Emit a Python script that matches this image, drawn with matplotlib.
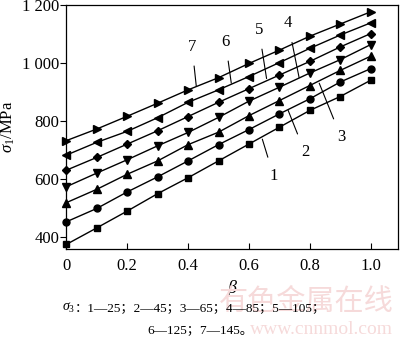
import matplotlib
matplotlib.use("Agg")
import matplotlib.pyplot as plt

beta = [0.0, 0.1, 0.2, 0.3, 0.4, 0.5, 0.6, 0.7, 0.8, 0.9, 1.0]
s1 = [373, 430, 488, 548, 603, 661, 719, 777, 835, 883, 939]
s2 = [451, 497, 554, 606, 661, 717, 769, 823, 875, 933, 979]
s3 = [517, 563, 615, 661, 717, 760, 817, 869, 921, 973, 1022]
s4 = [572, 619, 665, 713, 759, 811, 867, 915, 964, 1010, 1062]
s5 = [629, 673, 719, 765, 814, 863, 910, 957, 1004, 1054, 1100]
s6 = [681, 725, 763, 810, 863, 906, 952, 1000, 1049, 1095, 1137]
s7 = [731, 771, 815, 860, 906, 948, 997, 1043, 1091, 1133, 1175]
series = [s1, s2, s3, s4, s5, s6, s7]
markers = ['s', 'o', '^', 'v', 'D', '<', '>']
msizes = [4.5, 5, 5.5, 5.5, 4.5, 5.5, 5.5]
curve_labels = ['1', '2', '3', '4', '5', '6', '7']
# (label text position, point on curve) in data coords
label_text = [(0.681, 609), (0.784, 690), (0.903, 742), (0.729, 1135), (0.633, 1112), (0.523, 1071), (0.413, 1054)]
label_tip = [(0.644, 736), (0.729, 835), (0.831, 929), (0.765, 948), (0.658, 945), (0.542, 929), (0.427, 918)]
xticks = [0, 0.2, 0.4, 0.6, 0.8, 1.0]
xticklabels = ['0', '0.2', '0.4', '0.6', '0.8', '1.0']
yticks = [400, 600, 800, 1000, 1200]
yticklabels = ['400', '600', '800', '1 000', '1 200']
caption1 = '：1—25；2—45；3—65；4—85；5—105；'
caption2 = '6—125；7—145。'

plt.rcParams['font.family'] = ['Liberation Serif', 'Noto Sans CJK SC', 'DejaVu Sans']
plt.rcParams['mathtext.fontset'] = 'custom'
plt.rcParams['mathtext.rm'] = 'Liberation Serif'
plt.rcParams['mathtext.it'] = 'Liberation Serif:italic'

fig = plt.figure(figsize=(4.0, 3.42), dpi=100)
ax = fig.add_axes([0.166, 0.271, 0.829, 0.7155])

for ys, m, ms in zip(series, markers, msizes):
    ax.plot(beta, ys, color='black', lw=1.0, marker=m, markersize=ms,
            markerfacecolor='black', markeredgecolor='black', clip_on=False, zorder=3)

for lab, (tx, ty), (px, py) in zip(curve_labels, label_text, label_tip):
    ax.annotate(lab, xy=(px, py), xytext=(tx, ty), fontsize=12,
                ha='center', va='center',
                arrowprops=dict(arrowstyle='-', color='black', lw=0.8,
                                shrinkA=6, shrinkB=0))

ax.set_xlim(0, 1.09)
ax.set_ylim(356, 1200)
ax.set_xticks(xticks)
ax.set_xticklabels(xticklabels)
ax.set_yticks(yticks)
ax.set_yticklabels(yticklabels)
ax.tick_params(axis='x', direction='in', length=4, width=0.8, labelsize=12, pad=6)
ax.tick_params(axis='y', direction='out', length=4, width=0.8, labelsize=12, pad=1)
for sp in ax.spines.values():
    sp.set_linewidth(0.9)

ax.set_ylabel(r'$\sigma_{\mathrm{1}}$/MPa', fontsize=12, labelpad=4)
ax.set_xlabel(r'$\beta$', fontsize=13, labelpad=3)

# watermark
fig.text(0.983, 0.118, '有色金属在线', fontsize=21, color='#f6dada',
         family=['Noto Sans CJK SC'], ha='right', va='center', zorder=0)
fig.text(0.983, 0.038, 'www.cnnmol.com', fontsize=14, color='#f6dada',
         ha='right', va='center', zorder=0)

fig.text(0.187, 0.1, r'$\sigma_3$', fontsize=10, ha='right', va='center')
fig.text(0.187, 0.1, caption1, fontsize=9.5, ha='left', va='center')
fig.text(0.5, 0.035, caption2, fontsize=9.5, ha='center', va='center')

fig.savefig('out.png', dpi=100)
